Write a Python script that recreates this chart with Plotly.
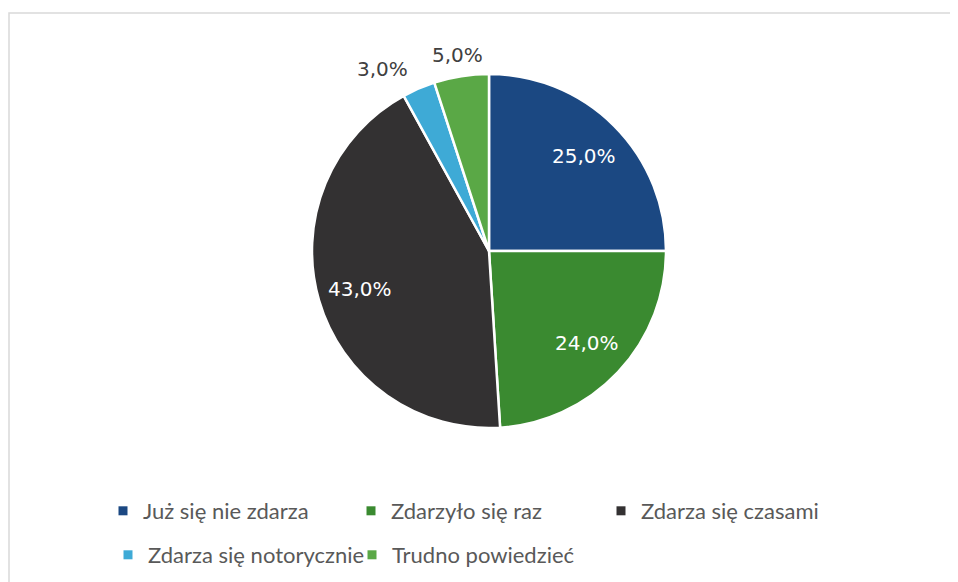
import math
import plotly.graph_objects as go

labels = ["Już się nie zdarza", "Zdarzyło się raz", "Zdarza się czasami",
          "Zdarza się notorycznie", "Trudno powiedzieć"]
values = [25.0, 24.0, 43.0, 3.0, 5.0]
text_labels = ["25,0%", "24,0%", "43,0%", "3,0%", "5,0%"]
colors = ["#1B4882", "#3A8A30", "#333132", "#3EAAD6", "#5AA846"]
label_inside = [True, True, True, False, False]

W, H = 958, 582
# pie centre / radius in figure pixels
cx, cy, r = 481, 243, 177

fig = go.Figure()
fig.add_trace(go.Pie(
    labels=labels, values=values,
    textinfo="none", sort=False, direction="clockwise", rotation=0,
    marker=dict(colors=colors, line=dict(color="white", width=2.5)),
    domain=dict(x=[(cx - r) / W, (cx + r) / W], y=[1 - (cy + r) / H, 1 - (cy - r) / H]),
    showlegend=False, hoverinfo="label+text", hovertext=text_labels,
))

# data labels placed from the slice angles
total = sum(values)
cum = 0.0
annotations = []
for v, t, inside in zip(values, text_labels, label_inside):
    theta = 2 * math.pi * (cum + v / 2) / total
    cum += v
    k = 0.76 if inside else 1.12
    px = cx + k * r * math.sin(theta)
    py = cy - k * r * math.cos(theta)
    s = math.sin(theta)
    xanchor = "center" if inside or abs(s) < 0.25 else ("right" if s < 0 else "left")
    annotations.append(dict(
        x=px / W, y=1 - py / H, xref="paper", yref="paper", text=t, showarrow=False,
        xanchor=xanchor, yanchor="middle",
        font=dict(family="DejaVu Sans", size=20, color="white" if inside else "#404040"),
    ))

# legend keys driven from the same label/colour lists
legend_ids = ["legend", "legend2", "legend3", "legend4", "legend5"]
for lab, col, lg in zip(labels, colors, legend_ids):
    fig.add_trace(go.Scatter(
        x=[None], y=[None], mode="markers", name=lab, legend=lg,
        marker=dict(symbol="square", size=9, color=col),
        hoverinfo="skip",
    ))

legend_font = dict(family="Lato, Liberation Sans", size=22, color="#595959")
# legend placement (figure pixels): row 1 and row 2
leg_x = [95, 343, 593, 100, 344]
leg_y = [503, 503, 503, 547, 547]
legend_layout = {}
for lg, lx, ly in zip(legend_ids, leg_x, leg_y):
    legend_layout[lg] = dict(orientation="h", x=lx / W, y=1 - ly / H, xanchor="left", yanchor="middle",
                             itemwidth=30, font=legend_font, bgcolor="rgba(0,0,0,0)")

fig.update_layout(
    width=W, height=H,
    margin=dict(l=0, r=0, t=0, b=0),
    paper_bgcolor="white", plot_bgcolor="rgba(0,0,0,0)",
    xaxis=dict(visible=False), yaxis=dict(visible=False),
    annotations=annotations,
    shapes=[dict(type="rect", xref="paper", yref="paper",
                 x0=1 / W, x1=1.02, y0=-0.05, y1=1 - 5 / H,
                 line=dict(color="#D9D9D9", width=1.5), fillcolor="rgba(0,0,0,0)")],
    **legend_layout,
)

fig.write_html("out.html")
